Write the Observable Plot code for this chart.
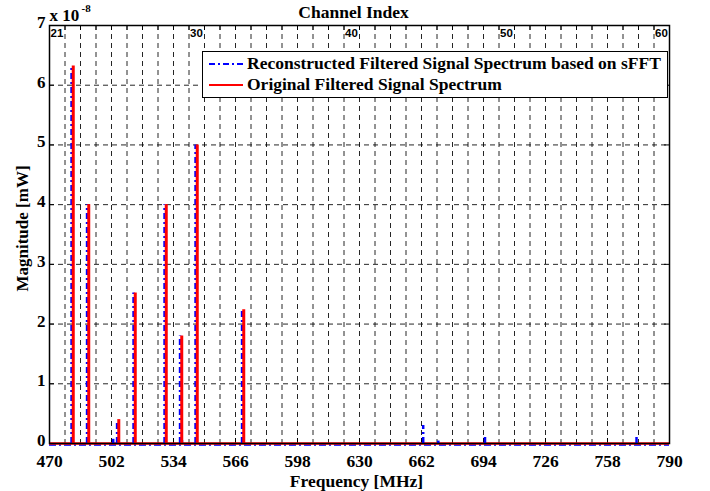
<!DOCTYPE html>
<html><head><meta charset="utf-8">
<script src="https://cdn.jsdelivr.net/npm/d3@7"></script>
<script src="https://cdn.jsdelivr.net/npm/@observablehq/plot@0.6"></script>
<style>
body{margin:0;background:#fff;}
#wrap{position:relative;width:710px;height:491px;}
.legend{position:absolute;left:202px;top:51px;width:466px;height:47px;border:1.5px solid #000;background:#fff;box-sizing:border-box;font:bold 17.5px "Liberation Serif","Times New Roman",serif;color:#000}
.legend .row{position:absolute;left:5px;display:flex;align-items:center;white-space:nowrap;height:21px}
.legend svg{margin-right:3px}
</style></head><body><div id="wrap"></div>
<script>
// x ticks (MHz), y ticks (x 1e-8 mW)
const freqTicks = [470, 502, 534, 566, 598, 630, 662, 694, 726, 758, 790];
const magTicks = [0, 1, 2, 3, 4, 5, 6, 7];
// UHF channel index (top axis): channel n starts at 470 + (n-21)*8 MHz
const channels = [21,22,23,24,25,26,27,28,29,30,31,32,33,34,35,36,37,38,39,40,41,42,43,44,45,46,47,48,49,50,51,52,53,54,55,56,57,58,59,60];
const channelLabels = [21, 30, 40, 50, 60];
const chFreq = ch => 470 + (ch - 21) * 8;

// Original filtered signal spectrum (red)
const origFreq = [482, 490, 505.5, 514, 530, 538, 546, 570];
const origMag  = [6.32, 4.0, 0.40, 2.52, 4.0, 1.80, 5.0, 2.24];
// Reconstructed (sFFT) spectrum (blue)
const recFreq = [482, 490, 503.5, 505.5, 514, 530, 538, 539, 546, 570, 663.5, 671.3, 695.4, 773.6];
const recMag  = [6.32, 4.0, 0.07, 0.38, 2.52, 4.0, 1.80, 0.05, 5.0, 2.24, 0.30, 0.04, 0.12, 0.13];

const orig = origFreq.map((f, i) => ({f, m: origMag[i]}));
const rec = recFreq.map((f, i) => ({f, m: recMag[i]}));
const chF = channels.map(chFreq);

const W = 710, H = 491, mL = 49, mR = 41, mT = 25, mB = 48;
const fw = W - mL - mR, fh = H - mT - mB;
const serif = "Liberation Serif, Times New Roman, serif";
const grid = {stroke: "#000", strokeOpacity: 0.85, strokeWidth: 1, strokeDasharray: "5,4"};
const bold = {fontWeight: "bold", fontFamily: serif};

const chart = Plot.plot({
  width: W, height: H,
  marginLeft: mL, marginRight: mR, marginTop: mT, marginBottom: mB,
  style: {fontFamily: serif, fontWeight: "bold", fontSize: "17px", color: "#000", background: "#fff", overflow: "visible"},
  x: {domain: [470, 790], axis: null},
  y: {domain: [0, 7], axis: null},
  marks: [
    Plot.ruleX(chF.slice(1), grid),
    Plot.ruleY(magTicks.slice(1, -1), grid),
    // inside ticks
    Plot.ruleX(freqTicks, {stroke: "#000", insetTop: fh - 5}),
    Plot.ruleX(chF, {stroke: "#000", insetBottom: fh - 5}),
    Plot.ruleY(magTicks, {stroke: "#000", insetRight: fw - 5}),
    Plot.ruleY(magTicks, {stroke: "#000", insetLeft: fw - 5}),
    // baseline
    Plot.ruleY([0], {stroke: "#33f", strokeWidth: 2, strokeDasharray: "7,3,2,3", dy: 1.5}),
    Plot.ruleY([0], {stroke: "red", strokeWidth: 2.5}),
    // spikes
    Plot.ruleX(rec, {x: "f", y1: 0, y2: "m", stroke: "blue", strokeWidth: 2.5, strokeDasharray: "6,3,2,3", dx: -1.2}),
    Plot.ruleX(orig, {x: "f", y1: 0, y2: "m", stroke: "red", strokeWidth: 3, dx: 0.5}),
    Plot.frame({stroke: "#000", strokeWidth: 1.5}),
    // tick labels (bold)
    Plot.text(freqTicks, {x: d => d, text: d => String(d), frameAnchor: "bottom", lineAnchor: "top", dy: 11, fontSize: 17.5, ...bold}),
    Plot.text(magTicks, {y: d => d, text: d => String(d), frameAnchor: "left", textAnchor: "end", lineAnchor: "middle", dx: -4, dy: -3, fontSize: 17, ...bold}),
    // top channel labels
    Plot.text(channelLabels, {x: chFreq, text: d => String(d), frameAnchor: "top", textAnchor: "start", lineAnchor: "middle", dx: 1, dy: 8,
      fontFamily: "Liberation Sans, Arial, sans-serif", fontSize: 11.5, fontWeight: "bold"}),
    // titles
    Plot.text(["Channel Index"], {frameAnchor: "top", textAnchor: "middle", lineAnchor: "middle", dx: -6, dy: -13, fontSize: 17.5, ...bold}),
    Plot.text(["Frequency [MHz]"], {frameAnchor: "bottom", textAnchor: "middle", lineAnchor: "middle", dx: -3, dy: 37.5, fontSize: 17.5, ...bold}),
    Plot.text(["Magnitude [mW]"], {frameAnchor: "left", textAnchor: "middle", lineAnchor: "middle", rotate: -90, dx: -27, dy: -6, fontSize: 17, ...bold}),
    Plot.text(["x 10"], {frameAnchor: "top-left", textAnchor: "start", lineAnchor: "middle", dx: 0, dy: -10, fontSize: 17, ...bold}),
    Plot.text(["-8"], {frameAnchor: "top-left", textAnchor: "start", lineAnchor: "middle", dx: 32, dy: -17, fontSize: 11, ...bold})
  ]
});

const wrap = document.getElementById("wrap");
wrap.appendChild(chart);

const legendItems = [
  {label: "Reconstructed Filtered Signal Spectrum based on sFFT", color: "blue", dash: "6,3,2,3"},
  {label: "Original Filtered Signal Spectrum", color: "red", dash: null}
];
const leg = document.createElement("div");
leg.className = "legend";
legendItems.forEach((it, i) => {
  const row = document.createElement("div");
  row.className = "row";
  row.style.top = (i === 0 ? 1 : 22) + "px";
  row.innerHTML = `<svg width="36" height="20"><line x1="1" x2="35" y1="10" y2="10" stroke="${it.color}" stroke-width="2" ${it.dash ? `stroke-dasharray="${it.dash}"` : ""}/></svg><span>${it.label}</span>`;
  leg.appendChild(row);
});
wrap.appendChild(leg);
</script>
</body></html>
